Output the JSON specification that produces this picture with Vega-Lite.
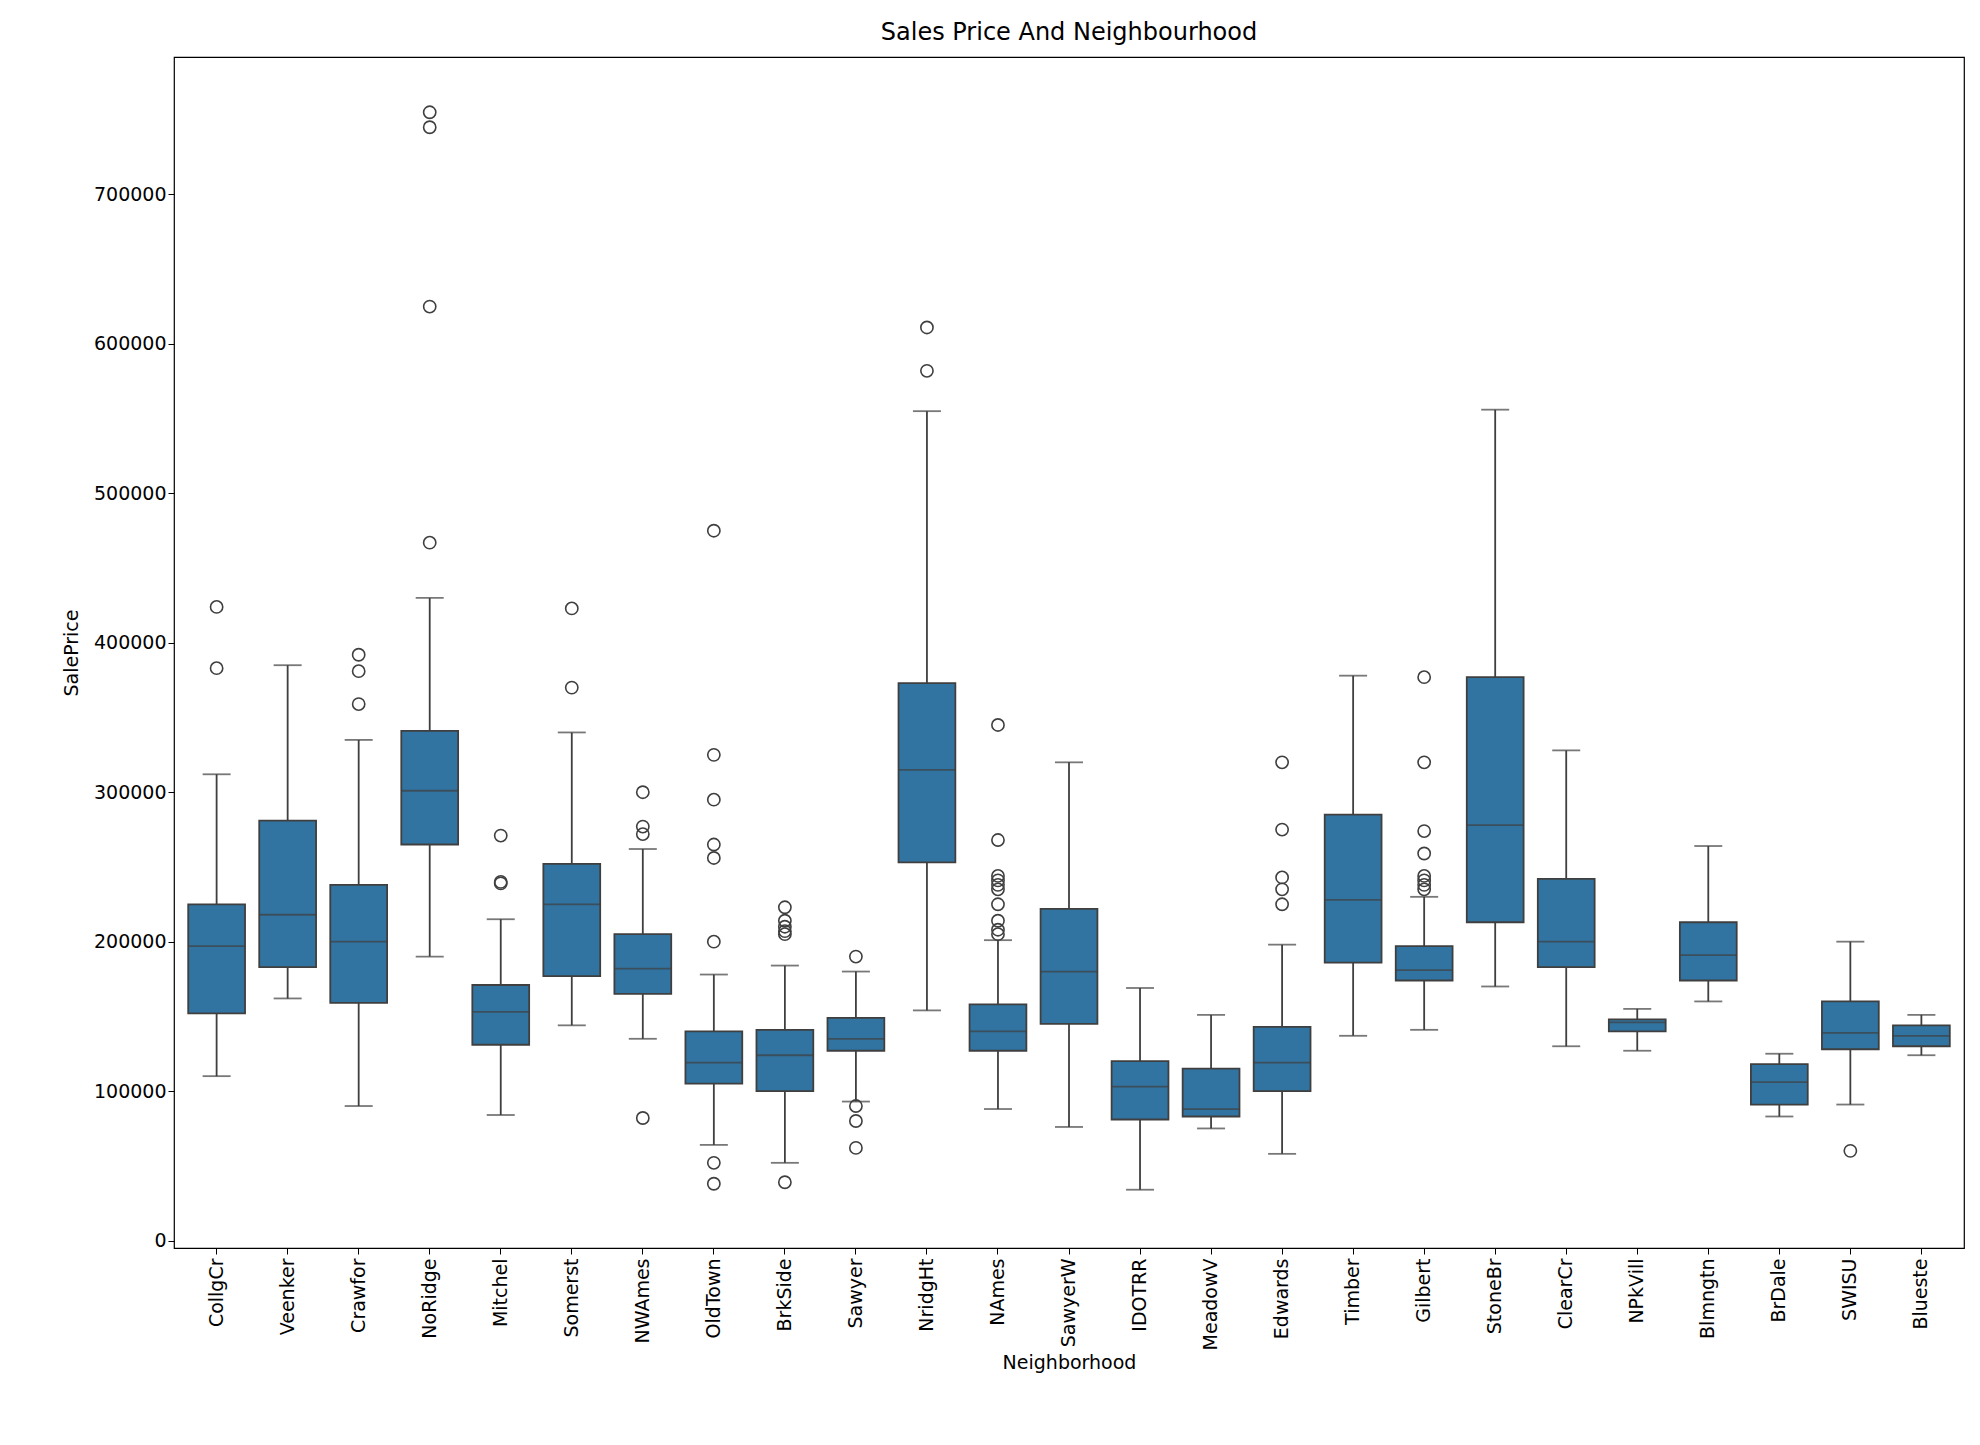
{
  "$schema": "https://vega.github.io/schema/vega-lite/v6.json",
  "width": 1790,
  "height": 1191,
  "autosize": {"type": "none"},
  "padding": {"left": 174, "top": 57, "right": 16, "bottom": 197},
  "background": "white",
  "title": {"text": "Sales Price And Neighbourhood", "font": "DejaVu Sans", "fontSize": 24, "fontWeight": "normal", "offset": 12},
  "config": {
    "font": "DejaVu Sans",
    "view": {"stroke": "black", "strokeWidth": 1.2},
    "axis": {"labelFont": "DejaVu Sans", "titleFont": "DejaVu Sans", "labelFontSize": 19, "titleFontSize": 19, "titleFontWeight": "normal", "labelColor": "black", "titleColor": "black", "domain": false, "tickColor": "black", "tickSize": 6, "grid": false}
  },
  "datasets": {
    "stats": [
      {"n": "CollgCr", "lo": 110000, "q1": 152000, "med": 197000, "q3": 225000, "hi": 312000},
      {"n": "Veenker", "lo": 162000, "q1": 183000, "med": 218000, "q3": 281000, "hi": 385000},
      {"n": "Crawfor", "lo": 90000, "q1": 159000, "med": 200000, "q3": 238000, "hi": 335000},
      {"n": "NoRidge", "lo": 190000, "q1": 265000, "med": 301000, "q3": 341000, "hi": 430000},
      {"n": "Mitchel", "lo": 84000, "q1": 131000, "med": 153000, "q3": 171000, "hi": 215000},
      {"n": "Somerst", "lo": 144000, "q1": 177000, "med": 225000, "q3": 252000, "hi": 340000},
      {"n": "NWAmes", "lo": 135000, "q1": 165000, "med": 182000, "q3": 205000, "hi": 262000},
      {"n": "OldTown", "lo": 64000, "q1": 105000, "med": 119000, "q3": 140000, "hi": 178000},
      {"n": "BrkSide", "lo": 52000, "q1": 100000, "med": 124000, "q3": 141000, "hi": 184000},
      {"n": "Sawyer", "lo": 93000, "q1": 127000, "med": 135000, "q3": 149000, "hi": 180000},
      {"n": "NridgHt", "lo": 154000, "q1": 253000, "med": 315000, "q3": 373000, "hi": 555000},
      {"n": "NAmes", "lo": 88000, "q1": 127000, "med": 140000, "q3": 158000, "hi": 201000},
      {"n": "SawyerW", "lo": 76000, "q1": 145000, "med": 180000, "q3": 222000, "hi": 320000},
      {"n": "IDOTRR", "lo": 34000, "q1": 81000, "med": 103000, "q3": 120000, "hi": 169000},
      {"n": "MeadowV", "lo": 75000, "q1": 83000, "med": 88000, "q3": 115000, "hi": 151000},
      {"n": "Edwards", "lo": 58000, "q1": 100000, "med": 119000, "q3": 143000, "hi": 198000},
      {"n": "Timber", "lo": 137000, "q1": 186000, "med": 228000, "q3": 285000, "hi": 378000},
      {"n": "Gilbert", "lo": 141000, "q1": 174000, "med": 181000, "q3": 197000, "hi": 230000},
      {"n": "StoneBr", "lo": 170000, "q1": 213000, "med": 278000, "q3": 377000, "hi": 556000},
      {"n": "ClearCr", "lo": 130000, "q1": 183000, "med": 200000, "q3": 242000, "hi": 328000},
      {"n": "NPkVill", "lo": 127000, "q1": 140000, "med": 146000, "q3": 148000, "hi": 155000},
      {"n": "Blmngtn", "lo": 160000, "q1": 174000, "med": 191000, "q3": 213000, "hi": 264000},
      {"n": "BrDale", "lo": 83000, "q1": 91000, "med": 106000, "q3": 118000, "hi": 125000},
      {"n": "SWISU", "lo": 91000, "q1": 128000, "med": 139000, "q3": 160000, "hi": 200000},
      {"n": "Blueste", "lo": 124000, "q1": 130000, "med": 137000, "q3": 144000, "hi": 151000}
    ],
    "outliers": [
      {"n": "CollgCr", "v": 424000}, {"n": "CollgCr", "v": 383000},
      {"n": "Crawfor", "v": 392000}, {"n": "Crawfor", "v": 381000}, {"n": "Crawfor", "v": 359000},
      {"n": "NoRidge", "v": 755000}, {"n": "NoRidge", "v": 745000}, {"n": "NoRidge", "v": 625000}, {"n": "NoRidge", "v": 467000},
      {"n": "Mitchel", "v": 271000}, {"n": "Mitchel", "v": 240000}, {"n": "Mitchel", "v": 239000},
      {"n": "Somerst", "v": 423000}, {"n": "Somerst", "v": 370000},
      {"n": "NWAmes", "v": 300000}, {"n": "NWAmes", "v": 277000}, {"n": "NWAmes", "v": 272000}, {"n": "NWAmes", "v": 82000},
      {"n": "OldTown", "v": 475000}, {"n": "OldTown", "v": 325000}, {"n": "OldTown", "v": 295000}, {"n": "OldTown", "v": 265000}, {"n": "OldTown", "v": 256000}, {"n": "OldTown", "v": 200000}, {"n": "OldTown", "v": 52000}, {"n": "OldTown", "v": 38000},
      {"n": "BrkSide", "v": 223000}, {"n": "BrkSide", "v": 214000}, {"n": "BrkSide", "v": 210000}, {"n": "BrkSide", "v": 207000}, {"n": "BrkSide", "v": 205000}, {"n": "BrkSide", "v": 39000},
      {"n": "Sawyer", "v": 190000}, {"n": "Sawyer", "v": 90000}, {"n": "Sawyer", "v": 80000}, {"n": "Sawyer", "v": 62000},
      {"n": "NridgHt", "v": 611000}, {"n": "NridgHt", "v": 582000},
      {"n": "NAmes", "v": 345000}, {"n": "NAmes", "v": 268000}, {"n": "NAmes", "v": 244000}, {"n": "NAmes", "v": 241000}, {"n": "NAmes", "v": 238000}, {"n": "NAmes", "v": 235000}, {"n": "NAmes", "v": 225000}, {"n": "NAmes", "v": 214000}, {"n": "NAmes", "v": 208000}, {"n": "NAmes", "v": 205000},
      {"n": "Edwards", "v": 320000}, {"n": "Edwards", "v": 275000}, {"n": "Edwards", "v": 243000}, {"n": "Edwards", "v": 235000}, {"n": "Edwards", "v": 225000},
      {"n": "Gilbert", "v": 377000}, {"n": "Gilbert", "v": 320000}, {"n": "Gilbert", "v": 274000}, {"n": "Gilbert", "v": 259000}, {"n": "Gilbert", "v": 244000}, {"n": "Gilbert", "v": 241000}, {"n": "Gilbert", "v": 238000}, {"n": "Gilbert", "v": 235000},
      {"n": "SWISU", "v": 60000}
    ]
  },
  "encoding": {
    "x": {"field": "n", "type": "nominal", "sort": null, "title": "Neighborhood",
      "scale": {"paddingInner": 0, "paddingOuter": 0.1},
      "axis": {"labelAngle": -90, "labelPadding": 4, "titlePadding": 4}},
    "y": {"type": "quantitative", "title": "SalePrice",
      "scale": {"domain": [-5000, 792000], "nice": false, "zero": false},
      "axis": {"values": [0, 100000, 200000, 300000, 400000, 500000, 600000, 700000], "format": "d", "titlePadding": 12}}
  },
  "layer": [
    {"data": {"name": "stats"}, "mark": {"type": "rule", "color": "#3f3f3f", "strokeWidth": 1.8},
      "encoding": {"y": {"field": "lo"}, "y2": {"field": "hi"}}},
    {"data": {"name": "stats"}, "mark": {"type": "bar", "width": {"band": 0.8}, "fill": "#3274a1", "stroke": "#3f3f3f", "strokeWidth": 1.8},
      "encoding": {"y": {"field": "q1"}, "y2": {"field": "q3"}}},
    {"data": {"name": "stats"}, "mark": {"type": "tick", "color": "#3f3f3f", "size": 57, "thickness": 1.8},
      "encoding": {"y": {"field": "med"}}},
    {"data": {"name": "stats"}, "mark": {"type": "tick", "color": "#3f3f3f", "size": 28, "thickness": 1.8},
      "encoding": {"y": {"field": "lo"}}},
    {"data": {"name": "stats"}, "mark": {"type": "tick", "color": "#3f3f3f", "size": 28, "thickness": 1.8},
      "encoding": {"y": {"field": "hi"}}},
    {"data": {"name": "outliers"}, "mark": {"type": "point", "shape": "circle", "filled": false, "stroke": "#3f3f3f", "strokeWidth": 1.6, "size": 150, "opacity": 1},
      "encoding": {"y": {"field": "v"}}}
  ]
}
